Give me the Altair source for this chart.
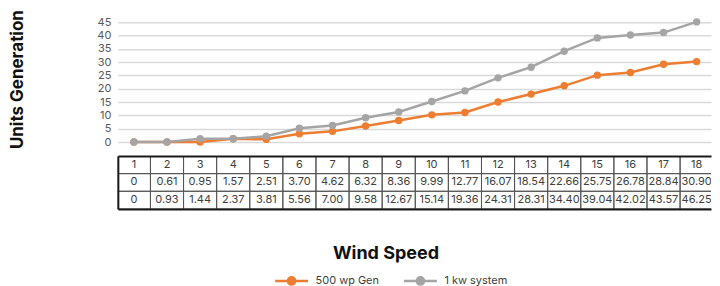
import altair as alt
import pandas as pd

# ---- data ----
wind_speed = list(range(1, 19))
series = ["500 wp Gen", "1 kw system"]
colors = ["#ED7D31", "#A5A5A5"]

# values printed in the data table
table_500wp = ["0", "0.61", "0.95", "1.57", "2.51", "3.70", "4.62", "6.32", "8.36",
               "9.99", "12.77", "16.07", "18.54", "22.66", "25.75", "26.78", "28.84", "30.90"]
table_1kw = ["0", "0.93", "1.44", "2.37", "3.81", "5.56", "7.00", "9.58", "12.67",
             "15.14", "19.36", "24.31", "28.31", "34.40", "39.04", "42.02", "43.57", "46.25"]

# values as drawn by the lines
line_500wp = [0, 0, 0, 1.2, 1, 3.1, 4, 6, 8.1, 10.2, 11.1, 15, 18, 21.1, 25.1, 26.1, 29.2, 30.2]
line_1kw = [0, 0, 1.2, 1.2, 2.2, 5.2, 6.2, 9.1, 11.3, 15.2, 19.2, 24.1, 28.1, 34.1, 39.1, 40.2, 41.1, 45.1]

y_ticks = [0, 5, 10, 15, 20, 25, 30, 35, 40, 45]

# ---- tables ----
line_df = pd.DataFrame({
    "ws": wind_speed * 2,
    "val": line_500wp + line_1kw,
    "series": [series[0]] * len(wind_speed) + [series[1]] * len(wind_speed),
})

table_df = pd.DataFrame({
    "ws": wind_speed * 3,
    "row": [0] * 18 + [1] * 18 + [2] * 18,
    "txt": [str(w) for w in wind_speed] + table_500wp + table_1kw,
})

FONT = "Inter"
W = 594                      # visible plot width (the chart is cut at the right edge)
X_DOMAIN = [0.515, 18.434]   # visible part of the category axis
BORDER = "#1a1a1a"

legend_symbol = ("M-1,0H1 "
                 "M-0.22,0A0.22,0.22 0 1,0 0.22,0A0.22,0.22 0 1,0 -0.22,0 "
                 "M-0.09,0A0.09,0.09 0 1,0 0.09,0A0.09,0.09 0 1,0 -0.09,0")

xscale = alt.Scale(domain=X_DOMAIN, nice=False, zero=False)

base = alt.Chart(line_df).encode(
    x=alt.X("ws:Q", scale=xscale, axis=None),
    y=alt.Y("val:Q", scale=alt.Scale(domain=[0, 45]),
            axis=alt.Axis(values=y_ticks, title="Units Generation",
                          labelFont=FONT, labelFontSize=11, labelColor="#595959",
                          labelPadding=7, ticks=False, domain=False,
                          gridColor="#d9d9d9", gridWidth=1.5,
                          titleFont=FONT, titleFontSize=17, titleFontWeight="bold",
                          titleColor="#111111", titleX=-100, titleY=57,
                          titleBaseline="middle", titleAlign="center")),
    color=alt.Color("series:N", scale=alt.Scale(domain=series, range=colors),
                    legend=alt.Legend(title=None, orient="none", direction="horizontal",
                                      legendX=156, legendY=241,
                                      symbolType=legend_symbol, symbolSize=1089,
                                      symbolStrokeWidth=2.5, labelOffset=6,
                                      columnPadding=19, labelFont=FONT,
                                      labelFontSize=11, labelColor="#404040")),
)
lines = base.mark_line(strokeWidth=2.5)
pts = base.mark_point(filled=True, size=55, opacity=1)
top = (lines + pts).properties(width=W, height=120,
                               view=alt.ViewBackground(stroke="transparent"))

ax_top = alt.Axis(orient="top", labels=False, ticks=False, grid=False, domain=True,
                  domainColor=BORDER, domainWidth=2, title=None, zindex=1)
ax_bot = alt.Axis(orient="bottom", labels=False, ticks=False, grid=False, domain=True,
                  domainColor=BORDER, domainWidth=2, zindex=1,
                  title="Wind Speed", titleX=268, titleY=45,
                  titleBaseline="middle", titleFont=FONT, titleFontSize=18,
                  titleFontWeight="bold", titleColor="#111111")
ty = alt.Y("row:O", scale=alt.Scale(domain=[0, 1, 2], paddingInner=0, paddingOuter=0),
           axis=alt.Axis(labels=False, ticks=False, domain=True, domainColor=BORDER,
                         domainWidth=2, title=None, zindex=1))

cells = alt.Chart(table_df).transform_calculate(
    lo="datum.ws - 0.5", hi="datum.ws + 0.5"
).mark_rect(fill="transparent", stroke="#555555", strokeWidth=1, clip=True).encode(
    x=alt.X("lo:Q", scale=xscale, axis=ax_top), x2="hi:Q", y=ty)
texts = alt.Chart(table_df).mark_text(font=FONT, fontSize=11, color="#404040",
                                      clip=True).encode(
    x=alt.X("ws:Q", scale=xscale, axis=ax_bot), y=ty, text="txt:N")
table = (cells + texts).resolve_axis(x="independent").properties(
    width=W, height=53, view=alt.ViewBackground(stroke="transparent"))

chart = alt.vconcat(top, table, spacing=14, bounds="flush").properties(
    padding={"left": 0, "top": 0, "right": 0, "bottom": 0},
).configure(font=FONT)

chart.save("out.html", embed_options={"renderer": "svg", "actions": False})
